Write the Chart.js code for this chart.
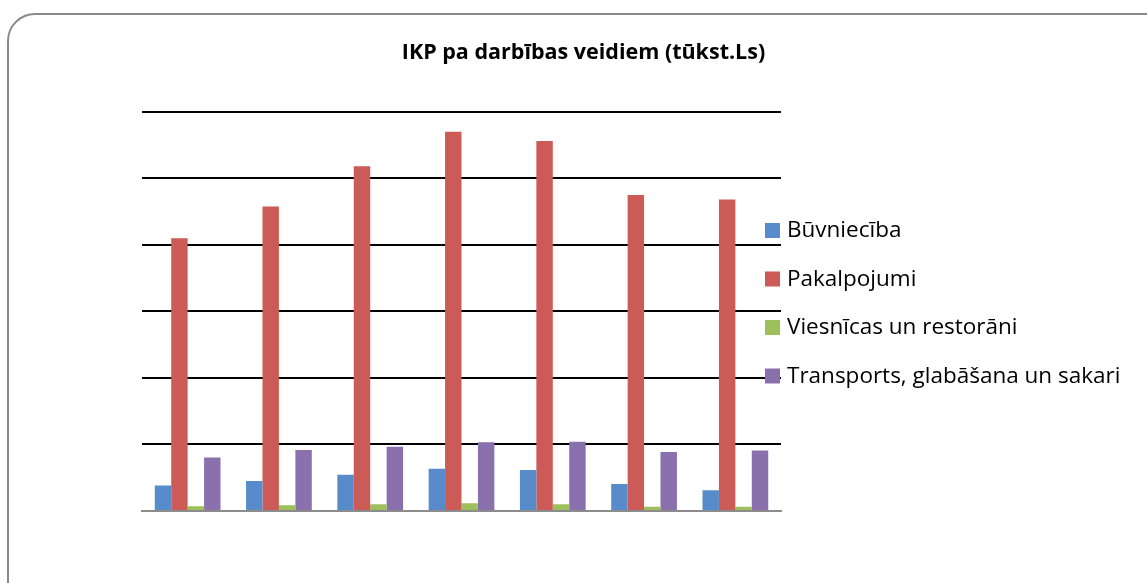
<!DOCTYPE html>
<html>
  <head>
    <script src="https://cdn.jsdelivr.net/npm/chart.js"></script>
  </head>
  <style>
    html, body {
      margin: 0;
      padding: 0;
      background: white;
      overflow: hidden;
    }
    #frame {
      position: absolute;
      left: 7px;
      top: 13px;
      width: 1170px;
      height: 620px;
      border: 2px solid #8a8a8a;
      border-radius: 28px;
    }
    #container {
      position: absolute;
      left: 0;
      top: 0;
      width: 1147px;
      height: 583px;
    }
  </style>
  <body>
    <div id="frame"></div>
    <div id="container">
      <canvas id="gdpChart"></canvas>
    </div>
    <script>
      const YEARS = ['1', '2', '3', '4', '5', '6', '7'];
      const BUVNIECIBA = [385, 450, 545, 635, 615, 405, 310];
      const PAKALPOJUMI = [4100, 4575, 5180, 5700, 5560, 4750, 4680];
      const VIESNICAS = [70, 85, 100, 115, 100, 65, 65];
      const TRANSPORTS = [805, 915, 965, 1035, 1040, 885, 910];

      const COLORS = {
        blue: '#588bca',
        red: '#cc5a56',
        green: '#9dbf5c',
        purple: '#8b70ae'
      };

      const FONT = '"Open Sans", sans-serif';

      // legend drawn beside the plot, overlapping the grid like the original
      const sideLegend = {
        id: 'sideLegend',
        afterDraw(chart) {
          const ctx = chart.ctx;
          const area = chart.chartArea;
          const x = area.right - 16;
          let y = 230;
          ctx.save();
          ctx.font = '22.5px ' + FONT;
          ctx.textBaseline = 'middle';
          chart.data.datasets.forEach((ds) => {
            ctx.fillStyle = ds.backgroundColor;
            ctx.fillRect(x, y - 7, 15, 15);
            ctx.fillStyle = '#000000';
            ctx.fillText(ds.label, x + 22, y + 1);
            y += 48.5;
          });
          ctx.restore();
        }
      };

      const data = {
        labels: YEARS,
        datasets: [
          { label: 'Būvniecība', data: BUVNIECIBA, backgroundColor: COLORS.blue },
          { label: 'Pakalpojumi', data: PAKALPOJUMI, backgroundColor: COLORS.red },
          { label: 'Viesnīcas un restorāni', data: VIESNICAS, backgroundColor: COLORS.green },
          { label: 'Transports, glabāšana un sakari', data: TRANSPORTS, backgroundColor: COLORS.purple }
        ]
      };

      const config = {
        type: 'bar',
        data: data,
        plugins: [sideLegend],
        options: {
          responsive: true,
          maintainAspectRatio: false,
          animation: false,
          layout: { padding: { left: 20, right: 0, top: 0, bottom: 0 } },
          datasets: {
            bar: {
              barPercentage: 1.0,
              categoryPercentage: 0.72,
              borderWidth: 0
            }
          },
          scales: {
            x: {
              ticks: { display: false },
              grid: { display: false },
              border: { display: true, color: '#8c8c8c', width: 2 },
              afterFit(scale) { scale.height = 72; }
            },
            y: {
              min: 0,
              max: 6000,
              ticks: { display: false, stepSize: 1000 },
              grid: {
                drawTicks: false,
                lineWidth: 2,
                color: (c) => (c.tick && c.tick.value === 0 ? '#8c8c8c' : '#000000')
              },
              border: { display: false },
              afterFit(scale) { scale.width = 122; }
            },
            spacer: {
              position: 'right',
              display: true,
              ticks: { display: false },
              grid: { display: false },
              border: { display: false },
              afterFit(scale) { scale.width = 366; }
            }
          },
          plugins: {
            legend: { display: false },
            tooltip: { enabled: false },
            title: {
              display: true,
              text: 'IKP pa darbības veidiem (tūkst.Ls)',
              color: '#000000',
              font: { family: FONT, size: 21.5, weight: 'bold' },
              padding: { top: 40, bottom: 46 }
            }
          }
        }
      };

      new Chart(document.getElementById('gdpChart'), config);
    </script>
  </body>
</html>
